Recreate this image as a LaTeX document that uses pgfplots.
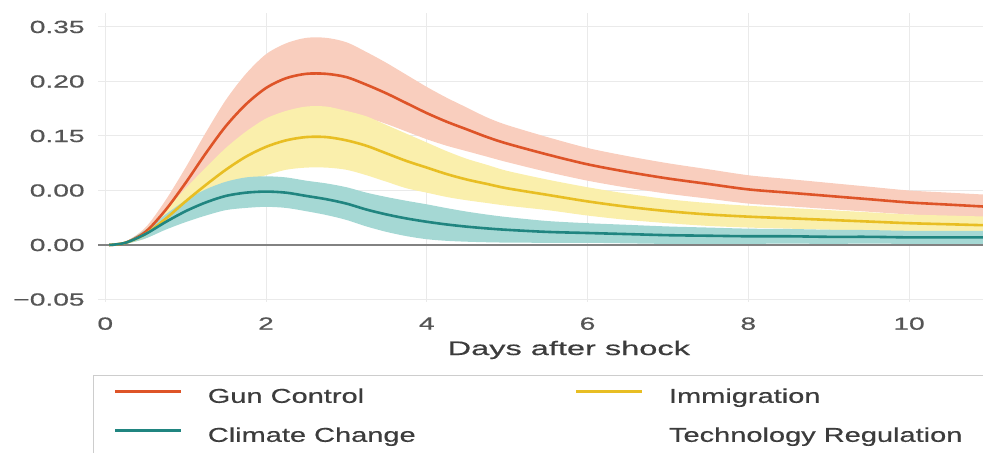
\documentclass[border=0pt]{standalone}
\usepackage{fontspec}
\setmainfont{Liberation Sans}
\newfontfamily\tickfont{Liberation Sans}[FakeStretch=1.6, FakeBold=0.6]
\newfontfamily\labfont{Liberation Sans}[FakeStretch=1.66, FakeBold=0.6]
\newfontfamily\legfont{Liberation Sans}[FakeStretch=1.45, FakeBold=0.5]
\usepackage{pgfplots}
\pgfplotsset{compat=1.18}
\usepackage{pgfplotstable}
\usepgfplotslibrary{fillbetween}

\definecolor{redline}{RGB}{222,84,40}
\definecolor{redband}{RGB}{249,206,190}
\definecolor{yelline}{RGB}{232,190,35}
\definecolor{yelband}{RGB}{250,239,172}
\definecolor{tealline}{RGB}{32,133,128}
\definecolor{tealband}{RGB}{165,216,212}
\definecolor{gridgray}{RGB}{234,234,234}
\definecolor{zerogray}{RGB}{130,130,130}
\definecolor{tickgray}{RGB}{85,85,85}
\definecolor{labgray}{RGB}{60,60,60}
\definecolor{legborder}{RGB}{205,205,205}

\pgfplotstableread{
x     r      rh      y       yh      t       th
0.05  0      0       0       0       0       0
0.25  0.002  0.001   0.002   0.001   0.002   0.001
0.5   0.012  0.004   0.010   0.004   0.010   0.004
0.75  0.032  0.009   0.024   0.008   0.021   0.007
1.0   0.057  0.014   0.040   0.012   0.031   0.010
1.25  0.084  0.019   0.055   0.016   0.039   0.012
1.5   0.109  0.024   0.069   0.020   0.045   0.013
1.75  0.129  0.028   0.081   0.023   0.048   0.014
2.0   0.144  0.031   0.090   0.026   0.049   0.014
2.25  0.153  0.032   0.096   0.027   0.048   0.014
2.5   0.157  0.033   0.099   0.028   0.045   0.014
2.75  0.157  0.033   0.099   0.028   0.042   0.0145
3.0   0.154  0.032   0.096   0.027   0.038   0.015
3.25  0.147  0.030   0.091   0.027   0.0325  0.0155
3.5   0.139  0.028   0.084   0.026   0.028   0.016
3.75  0.130  0.026   0.077   0.025   0.0243  0.0162
4.0   0.121  0.024   0.071   0.023   0.0213  0.016
4.25  0.113  0.022   0.065   0.021   0.0188  0.015
4.5   0.106  0.020   0.060   0.019   0.0168  0.0138
4.75  0.099  0.018   0.056   0.0175  0.0152  0.0127
5.0   0.093  0.017   0.052   0.016   0.0139  0.0117
5.5   0.083  0.016   0.046   0.014   0.012   0.010
6.0   0.074  0.015   0.040   0.013   0.011   0.009
6.5   0.067  0.0145  0.035   0.012   0.010   0.0085
7.0   0.061  0.014   0.031   0.011   0.009   0.008
7.5   0.056  0.0135  0.028   0.0105  0.0085  0.0075
8.0   0.051  0.013   0.026   0.010   0.008   0.007
8.5   0.048  0.0125  0.0245  0.0095  0.008   0.0067
9.0   0.045  0.012   0.023   0.009   0.0075  0.0065
9.5   0.042  0.0115  0.0215  0.0085  0.0075  0.0062
10.0  0.039  0.011   0.020   0.008   0.007   0.006
10.5  0.037  0.011   0.019   0.008   0.007   0.006
11.0  0.035  0.011   0.018   0.008   0.007   0.006
}\datatable

\begin{document}
\begin{tikzpicture}
\begin{axis}[
  at={(0pt,0pt)}, anchor=south west,
  scale only axis, width=442.5pt, height=144.5pt,
  xmin=-0.09, xmax=10.92, ymin=-0.0523, ymax=0.2128,
  axis line style={draw=none},
  tick style={draw=none},
  xtick={0,2,4,6,8,10},
  xticklabels={0,2,4,6,8,10},
  ytick={-0.05,0,0.05,0.10,0.15,0.20},
  yticklabels={−0.05,0.00,0.00,0.15,0.20,0.35},
  grid=major,
  grid style={color=gridgray, line width=0.5pt},
  extra y ticks={0},
  extra y tick labels={},
  extra y tick style={grid style={color=zerogray, line width=1pt}},
  tick label style={font=\tickfont\fontsize{8.8}{10}\selectfont, text=tickgray, inner sep=0pt},
  yticklabel style={anchor=east, xshift=-6.5pt},
  xticklabel style={anchor=north, yshift=-7.5pt},
  xlabel={Days after shock},
  x label style={at={(axis description cs:0.532,0)}, anchor=base, yshift=-26.5pt, inner sep=0pt, font=\labfont\fontsize{9.8}{11}\selectfont, text=labgray},
  legend columns=2,
  legend style={at={(axis description cs:-0.00565,-0.2526)}, anchor=north west,
    draw=legborder, line width=0.6pt, fill=white,
    inner xsep=10pt, inner ysep=6.6pt,
    font=\legfont\fontsize{10}{12}\selectfont, text=labgray,
    nodes={inner sep=0pt, text height=7pt, text depth=2.5pt},
    cells={anchor=west},
    row sep=10pt,
    /tikz/every odd column/.append style={column sep=12.5pt},
    /tikz/every even column/.append style={column sep=0pt}},
  legend image code/.code={\draw[#1, line width=1.6pt] (0pt,3.6pt) -- (33pt,3.6pt);},
]
% bands
\addplot[name path=ru, draw=none, forget plot, smooth] table[x=x, y expr=\thisrow{r}+\thisrow{rh}] {\datatable};
\addplot[name path=rl, draw=none, forget plot, smooth] table[x=x, y expr=\thisrow{r}-\thisrow{rh}] {\datatable};
\addplot[fill=redband, draw=none, forget plot] fill between[of=ru and rl];
\addplot[name path=yu, draw=none, forget plot, smooth] table[x=x, y expr=\thisrow{y}+\thisrow{yh}] {\datatable};
\addplot[name path=yl, draw=none, forget plot, smooth] table[x=x, y expr=\thisrow{y}-\thisrow{yh}] {\datatable};
\addplot[fill=yelband, draw=none, forget plot] fill between[of=yu and yl];
\addplot[name path=tu, draw=none, forget plot, smooth] table[x=x, y expr=\thisrow{t}+\thisrow{th}] {\datatable};
\addplot[name path=tl, draw=none, forget plot, smooth] table[x=x, y expr=\thisrow{t}-\thisrow{th}] {\datatable};
\addplot[fill=tealband, draw=none, forget plot] fill between[of=tu and tl];
% lines
\addplot[color=redline, line width=1.3pt, smooth] table[x=x, y=r] {\datatable};
\addlegendentry{\makebox[183.5pt][l]{Gun Control}}
\addplot[color=yelline, line width=1.3pt, smooth] table[x=x, y=y] {\datatable};
\addlegendentry{\makebox[185pt][l]{Immigration}}
\addplot[color=tealline, line width=1.3pt, smooth] table[x=x, y=t] {\datatable};
\addlegendentry{\makebox[183.5pt][l]{Climate Change}}
\addlegendimage{color=white, draw opacity=0}
\addlegendentry{\makebox[185pt][l]{Technology Regulation}}
\end{axis}
\pgfresetboundingbox
\useasboundingbox (-49pt,-75pt) rectangle (442.5pt,151pt);
\end{tikzpicture}
\end{document}
